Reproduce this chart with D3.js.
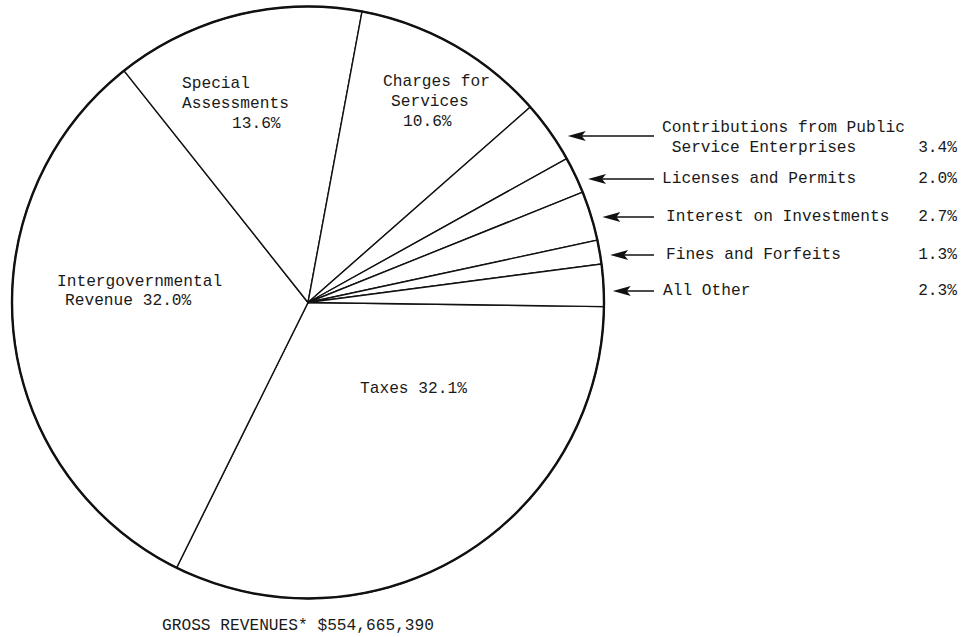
<!DOCTYPE html>
<html>
<head>
<meta charset="utf-8">
<script src="https://cdn.jsdelivr.net/npm/d3@7"></script>
<style>
  body { margin: 0; background: #fff; }
  svg text { font-family: "Liberation Mono", "DejaVu Sans Mono", monospace; font-size: 16.2px; fill: #1a1a1a; }
</style>
</head>
<body>
<svg id="chart" width="974" height="637"></svg>
<script>
// revenue shares, in drawing order (clockwise from the 3 o'clock line)
var categories = ["Taxes", "Intergovernmental Revenue", "Special Assessments", "Charges for Services",
  "Contributions from Public Service Enterprises", "Licenses and Permits", "Interest on Investments",
  "Fines and Forfeits", "All Other"]
var values = [32.1, 32.0, 13.6, 10.6, 3.4, 2.0, 2.7, 1.3, 2.3]
var totalLabel = "GROSS REVENUES* $554,665,390"

// small slices get a label outside with an arrow
var outsideNames = ["Contributions from Public Service Enterprises", "Licenses and Permits",
  "Interest on Investments", "Fines and Forfeits", "All Other"]
var outsideLines = [["Contributions from Public", " Service Enterprises"], ["Licenses and Permits"],
  ["Interest on Investments"], ["Fines and Forfeits"], ["All Other"]]

var svg = d3.select("#chart")
const cx = 308, cy = 302.5, r = 296
const startDeg = 90.8

var pie = d3.pie()
  .sort(null)
  .value(d => d.value)
  .startAngle(startDeg * Math.PI / 180)
  .endAngle(startDeg * Math.PI / 180 + 2 * Math.PI)

var arc = d3.arc().innerRadius(0).outerRadius(r)

var rows = categories.map((c, i) => ({ name: c, value: values[i] }))
var arcs = pie(rows)

var g = svg.append("g").attr("transform", `translate(${cx},${cy})`)

g.selectAll("path.slice")
  .data(arcs)
  .enter().append("path")
  .attr("class", "slice")
  .attr("d", arc)
  .attr("fill", "#fff")
  .attr("stroke", "#111")
  .attr("stroke-width", 1.4)

g.append("circle")
  .attr("r", r)
  .attr("fill", "none")
  .attr("stroke", "#111")
  .attr("stroke-width", 2.4)

// labels placed by hand inside the big slices
var fmt = v => v.toFixed(1) + "%"
var inside = {
  "Taxes": [[360, 393, "Taxes " + fmt(values[0])]],
  "Intergovernmental Revenue": [[57, 286, "Intergovernmental"], [65, 305, "Revenue " + fmt(values[1])]],
  "Special Assessments": [[182, 88, "Special"], [182, 108, "Assessments"], [232, 128, fmt(values[2])]],
  "Charges for Services": [[383, 86, "Charges for"], [391, 106, "Services"], [403, 126, fmt(values[3])]]
}
Object.keys(inside).forEach(k => {
  inside[k].forEach(t => {
    svg.append("text").attr("x", t[0]).attr("y", t[1]).text(t[2])
  })
})

// outside labels with arrows
var arrowY = [136, 179, 217, 255, 291]
var gaps = [15, 11, 11, 10, 9]
var textX = [662, 662, 666, 666, 663]
var lineEnd = 654

outsideNames.forEach((name, i) => {
  var idx = categories.indexOf(name)
  var y = arrowY[i]
  var edge = cx + Math.sqrt(r * r - (y - cy) * (y - cy))
  var tip = edge + gaps[i]
  svg.append("line")
    .attr("x1", tip + 8).attr("y1", y)
    .attr("x2", lineEnd).attr("y2", y)
    .attr("stroke", "#111").attr("stroke-width", 1.6)
  svg.append("path")
    .attr("d", `M${tip},${y} L${tip + 18},${y - 5} L${tip + 14},${y} L${tip + 18},${y + 5} Z`)
    .attr("fill", "#111")
  var lines = outsideLines[i]
  var base = lines.length > 1 ? y - 4 : y + 4
  lines.forEach((l, j) => {
    svg.append("text")
      .attr("x", textX[i])
      .attr("y", base + j * 20)
      .attr("xml:space", "preserve")
      .text(l)
  })
  svg.append("text")
    .attr("x", 957)
    .attr("y", base + (lines.length - 1) * 20)
    .attr("text-anchor", "end")
    .text(fmt(values[idx]))
})

svg.append("text").attr("x", 162).attr("y", 630).text(totalLabel)
</script>
</body>
</html>
